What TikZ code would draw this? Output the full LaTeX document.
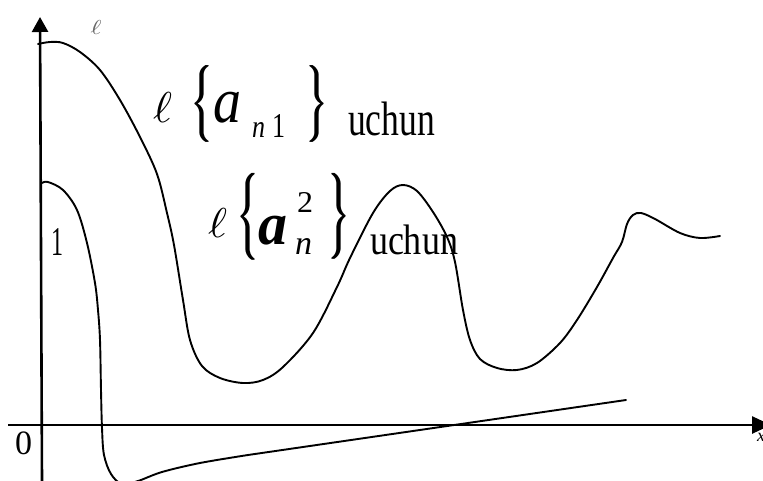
\documentclass[tikz,border=0pt]{standalone}
\usepackage{fontspec}
\setmainfont{Liberation Serif}
\usepackage{graphicx}
\usetikzlibrary{arrows.meta}
\newcommand\glyph[5]{\node[glyph] (#1) at (#2) {\resizebox*{#3pt}{#4pt}{#5}};}
\newcommand\brc[5]{%
  \node[glyph] (#1) at (#2) {\resizebox*{#3pt}{#4pt}{#5}};
  \node[glyph, xshift=-0.7pt] (#1l) at (#2) {\resizebox*{#3pt}{#4pt}{#5}};
  \node[glyph, xshift=0.7pt] (#1r) at (#2) {\resizebox*{#3pt}{#4pt}{#5}};}
\begin{document}
\begin{tikzpicture}[x=1pt,y=-1pt,
  curve/.style={line width=1.9pt, line join=round, line cap=round},
  axis/.style={line width=2.6pt},
  glyph/.style={inner sep=0pt, outer sep=0pt}]
\useasboundingbox (0,0) rectangle (763,481);
\clip (0,0) rectangle (763,481);
% axes
\coordinate (ybot) at (42,481);
\coordinate (ytop) at (40,17);
\coordinate (xl) at (8,425);
\coordinate (xr) at (771,425);
\draw[axis,-{Triangle[width=16pt,length=15pt]}] (ybot) -- (ytop);
\draw[axis,-{Triangle[width=17pt,length=19pt]}] (xl) -- (xr);
% big curve
\draw[curve] plot[smooth, tension=0.55] coordinates {
 (38,44) (50,42) (63,43) (80,52) (100,70) (120,100) (140,137) (157,174) (167,213)
 (174,245) (183,300) (190,340) (202,366) (220,378) (243,383) (263,380) (283,367)
 (313,333) (337,287) (350,258) (373,213) (390,191) (403,185) (417,191) (433,212)
 (447,237) (455,262) (463,310) (470,340) (480,359) (497,368) (517,370) (537,363)
 (560,343) (577,320) (597,287) (613,258) (622,242) (627,224) (633,215) (641,213)
 (655,219) (680,233) (700,238) (720,236)};
% small curve and line
\draw[curve] plot[smooth, tension=0.55] coordinates {
 (42,183) (48,182) (63,190) (77,210) (87,243) (95,283) (98,310) (100,340)
 (101,390) (102,428) (104,455) (111,474) (122,484) (138,481) (162,472) (200,463) (248,455)}
 -- (626,400);
% labels
\glyph{ellt}{96,28}{11}{14}{\color{black!60}$\ell$}
\glyph{zero}{23.5,443.5}{17}{23}{0}
\glyph{one}{57,242}{12}{27}{1}
% label 1
\glyph{ell1}{162.5,107}{19}{30}{$\ell$}
\brc{lba}{202,103.5}{19}{77}{$\Bigg\{$}
\glyph{aa}{227,107.5}{28}{31}{\itshape a}
\glyph{na}{258.5,130.5}{13}{15}{\itshape n}
\glyph{onea}{278.5,126.5}{13}{23}{1}
\brc{rba}{317,103.5}{19}{77}{$\Bigg\}$}
\glyph{ua}{391.5,119}{87}{34}{uchun}
% label 2
\glyph{ell2}{217.5,222.5}{19}{29}{$\ell$}
\brc{lbb}{248,216.5}{19}{87}{$\Bigg\{$}
\glyph{ab}{272.5,230.5}{29}{29}{\bfseries\itshape a}
\glyph{twob}{305,202}{16}{20}{2}
\glyph{nb}{303.5,246}{17}{16}{\itshape n}
\brc{rbb}{339,216}{19}{86}{$\Bigg\}$}
\glyph{ub}{414,240}{88}{30}{uchun}
% cut-off axis label
\node[glyph, anchor=north west, font=\itshape\fontsize{18}{18}\selectfont] (xlab) at (757,433) {x};
\end{tikzpicture}
\end{document}
